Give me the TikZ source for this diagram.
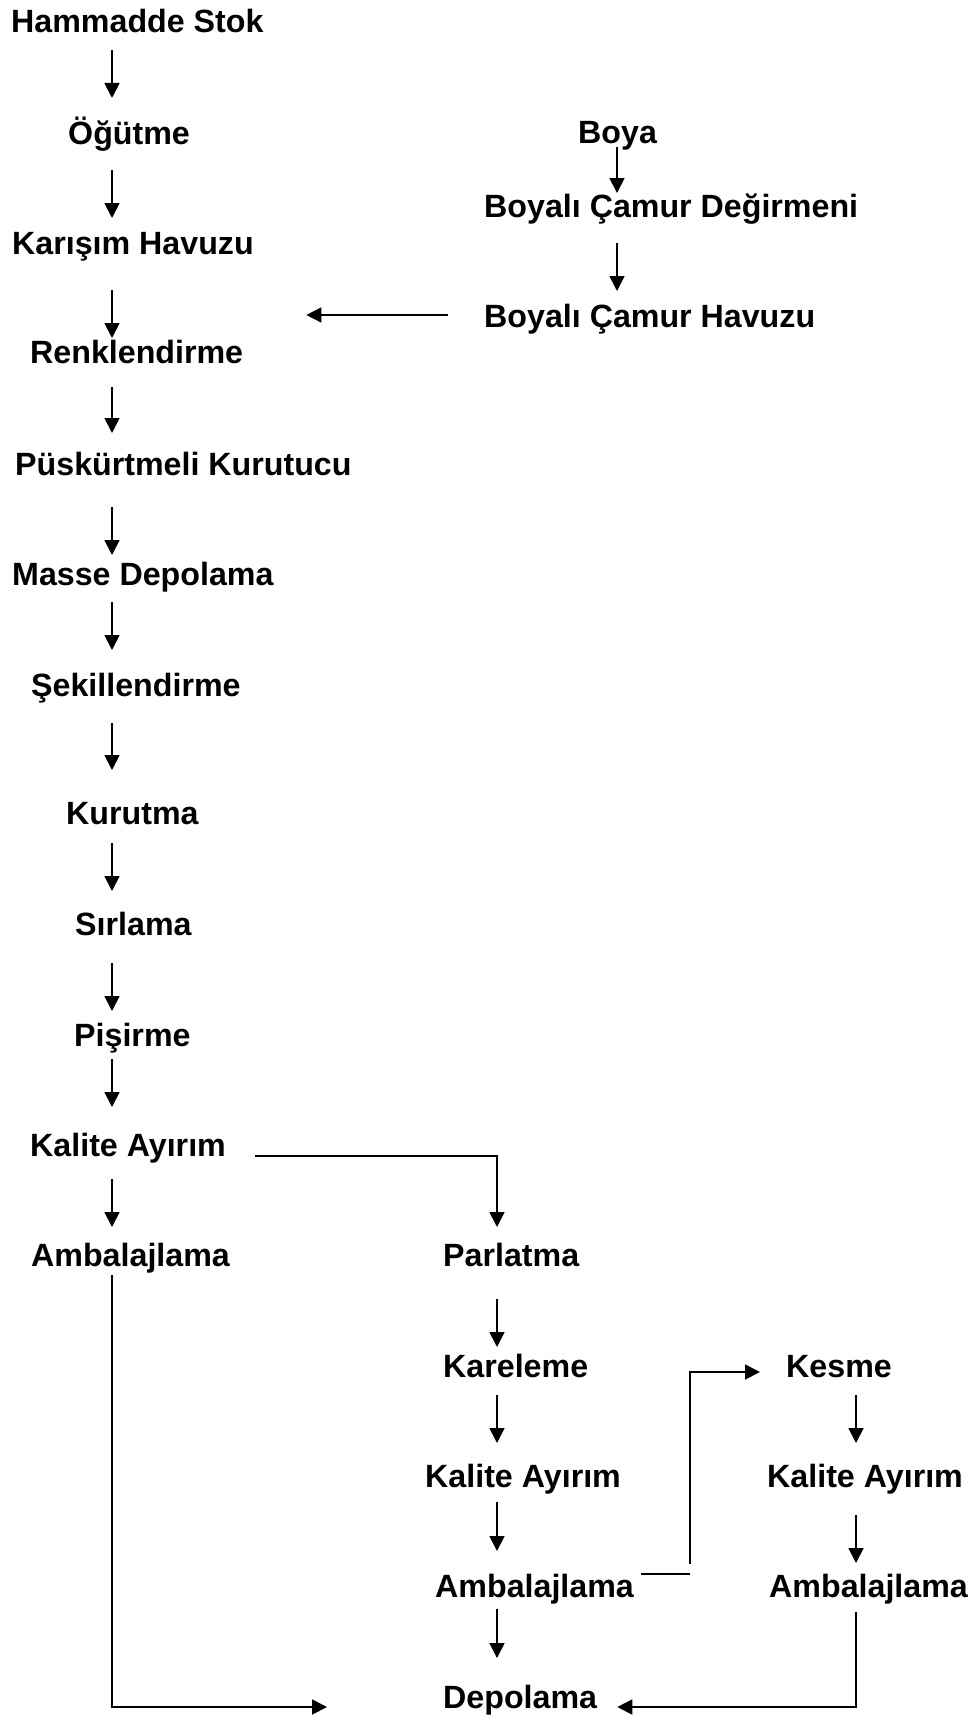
\documentclass[tikz,border=0pt]{standalone}
\usepackage{fontspec}
\setmainfont{Liberation Sans}
\usetikzlibrary{arrows.meta,calc}
\begin{document}
\begin{tikzpicture}[x=1pt,y=-1pt,
  txt/.style={font=\fontsize{32.2pt}{38pt}\selectfont\bfseries, inner sep=0pt, anchor=base west},
  arr/.style={line width=1.8pt, -{Triangle[length=15pt,width=15pt]}},
  ln/.style={line width=1.8pt}]
\useasboundingbox (0,0) rectangle (972,1718);
% column x positions
\coordinate (cA) at (112,0);
\coordinate (cB) at (617,0);
\coordinate (cM) at (497,0);
\coordinate (cR) at (856,0);
% main column
\node[txt] (hs) at (11,33) {Hammadde Stok};
\node[txt] (og) at (68,144) {Öğütme};
\node[txt] (kh) at (12,254) {Karışım Havuzu};
\node[txt] (rk) at (30,363) {Renklendirme};
\node[txt] (pk) at (15,475) {Püskürtmeli Kurutucu};
\node[txt] (md) at (12,585) {Masse Depolama};
\node[txt] (sk) at (31,696) {Şekillendirme};
\node[txt] (ku) at (66,824) {Kurutma};
\node[txt] (si) at (75,935) {Sırlama};
\node[txt] (pi) at (74,1046) {Pişirme};
\node[txt] (ka1) at (30,1156) {Kalite Ayırım};
\node[txt] (am1) at (31,1266) {Ambalajlama};
% boya column
\node[txt] (by) at (578,143) {Boya};
\node[txt] (bcd) at (484,217) {Boyalı Çamur Değirmeni};
\node[txt] (bch) at (484,327) {Boyalı Çamur Havuzu};
% middle column
\node[txt] (pa) at (443,1266) {Parlatma};
\node[txt] (kr) at (443,1377) {Kareleme};
\node[txt] (ka2) at (425,1487) {Kalite Ayırım};
\node[txt] (am2) at (435,1597) {Ambalajlama};
\node[txt] (de) at (443,1708) {Depolama};
% right column
\node[txt] (ke) at (786,1377) {Kesme};
\node[txt] (ka3) at (767,1487) {Kalite Ayırım};
\node[txt] (am3) at (769,1597) {Ambalajlama};

% main column arrows
\draw[arr] ($(hs.base -| cA)+(0,17)$) -- ($(og.base -| cA)+(0,-46)$);
\draw[arr] ($(og.base -| cA)+(0,26)$) -- ($(kh.base -| cA)+(0,-36)$);
\draw[arr] ($(kh.base -| cA)+(0,36)$) -- ($(rk.base -| cA)+(0,-25)$);
\draw[arr] ($(rk.base -| cA)+(0,24)$) -- ($(pk.base -| cA)+(0,-42)$);
\draw[arr] ($(pk.base -| cA)+(0,32)$) -- ($(md.base -| cA)+(0,-30)$);
\draw[arr] ($(md.base -| cA)+(0,17)$) -- ($(sk.base -| cA)+(0,-46)$);
\draw[arr] ($(sk.base -| cA)+(0,27)$) -- ($(ku.base -| cA)+(0,-54)$);
\draw[arr] ($(ku.base -| cA)+(0,19)$) -- ($(si.base -| cA)+(0,-44)$);
\draw[arr] ($(si.base -| cA)+(0,28)$) -- ($(pi.base -| cA)+(0,-35)$);
\draw[arr] ($(pi.base -| cA)+(0,13)$) -- ($(ka1.base -| cA)+(0,-49)$);
\draw[arr] ($(ka1.base -| cA)+(0,23)$) -- ($(am1.base -| cA)+(0,-39)$);
\draw[arr] ($(am1.base -| cA)+(0,9)$) |- ($(de.base west)+(-116,-1)$);

% boya column
\draw[arr] ($(by.base -| cB)+(0,4)$) -- ($(bcd.base -| cB)+(0,-24)$);
\draw[arr] ($(bcd.base -| cB)+(0,26)$) -- ($(bch.base -| cB)+(0,-36)$);
\draw[arr] ($(bch.base west)+(-36,-12)$) -- ($(rk.base east)+(63,-48)$);

% branch to Parlatma
\draw[arr] ($(ka1.base east)+(29,0)$) -| ($(pa.base -| cM)+(0,-39)$);

% middle column
\draw[arr] ($(pa.base -| cM)+(0,33)$) -- ($(kr.base -| cM)+(0,-30)$);
\draw[arr] ($(kr.base -| cM)+(0,18)$) -- ($(ka2.base -| cM)+(0,-44)$);
\draw[arr] ($(ka2.base -| cM)+(0,15)$) -- ($(am2.base -| cM)+(0,-46)$);
\draw[arr] ($(am2.base -| cM)+(0,12)$) -- ($(de.base -| cM)+(0,-50)$);

% branch to Kesme
\draw[ln] ($(am2.base east)+(7,-23)$) -- ($(am2.base east)+(56,-23)$);
\draw[arr] ($(am2.base east)+(56,-33)$) |- ($(ke.base west)+(-26,-5)$);

% right column
\draw[arr] ($(ke.base -| cR)+(0,18)$) -- ($(ka3.base -| cR)+(0,-44)$);
\draw[arr] ($(ka3.base -| cR)+(0,28)$) -- ($(am3.base -| cR)+(0,-34)$);
\draw[arr] ($(am3.base -| cR)+(0,15)$) |- ($(de.base east)+(20,-1)$);
\end{tikzpicture}
\end{document}
